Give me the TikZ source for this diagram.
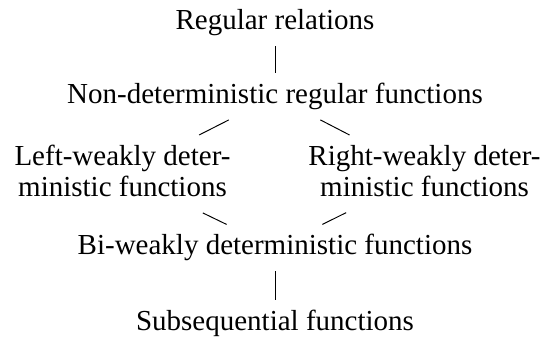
\documentclass[tikz,border=0pt]{standalone}
\usepackage{fontspec}
\setmainfont{Liberation Serif}

\begin{document}
\begin{tikzpicture}[x=0.4138pt,y=-0.4138pt,
  every node/.style={font=\fontsize{12}{12.8}\selectfont,inner sep=4pt}]
 \useasboundingbox (0,0) rectangle (545,338);
 \node[anchor=base] (rel) at (275,30) {Regular relations};
 \node[anchor=base] (nondet) at (275,103.5) {Non-deterministic regular functions};
 \node[anchor=north,align=center,text depth=2.6pt] (left) at (122.5,135) {Left-weakly deter-\\ministic functions};
 \node[anchor=north,align=center,text depth=2.6pt] (right) at (424.5,135) {Right-weakly deter-\\ministic functions};
 \node[anchor=base] (bi) at (275,255) {Bi-weakly deterministic functions};
 \node[anchor=base] (subseq) at (275,331) {Subsequential functions};
 \draw (rel) -- (nondet);
 \draw (nondet) -- (left);
 \draw (nondet) -- (right);
 \draw (left) -- (bi);
 \draw (right) -- (bi);
 \draw (bi) -- (subseq);
\end{tikzpicture}
\end{document}
